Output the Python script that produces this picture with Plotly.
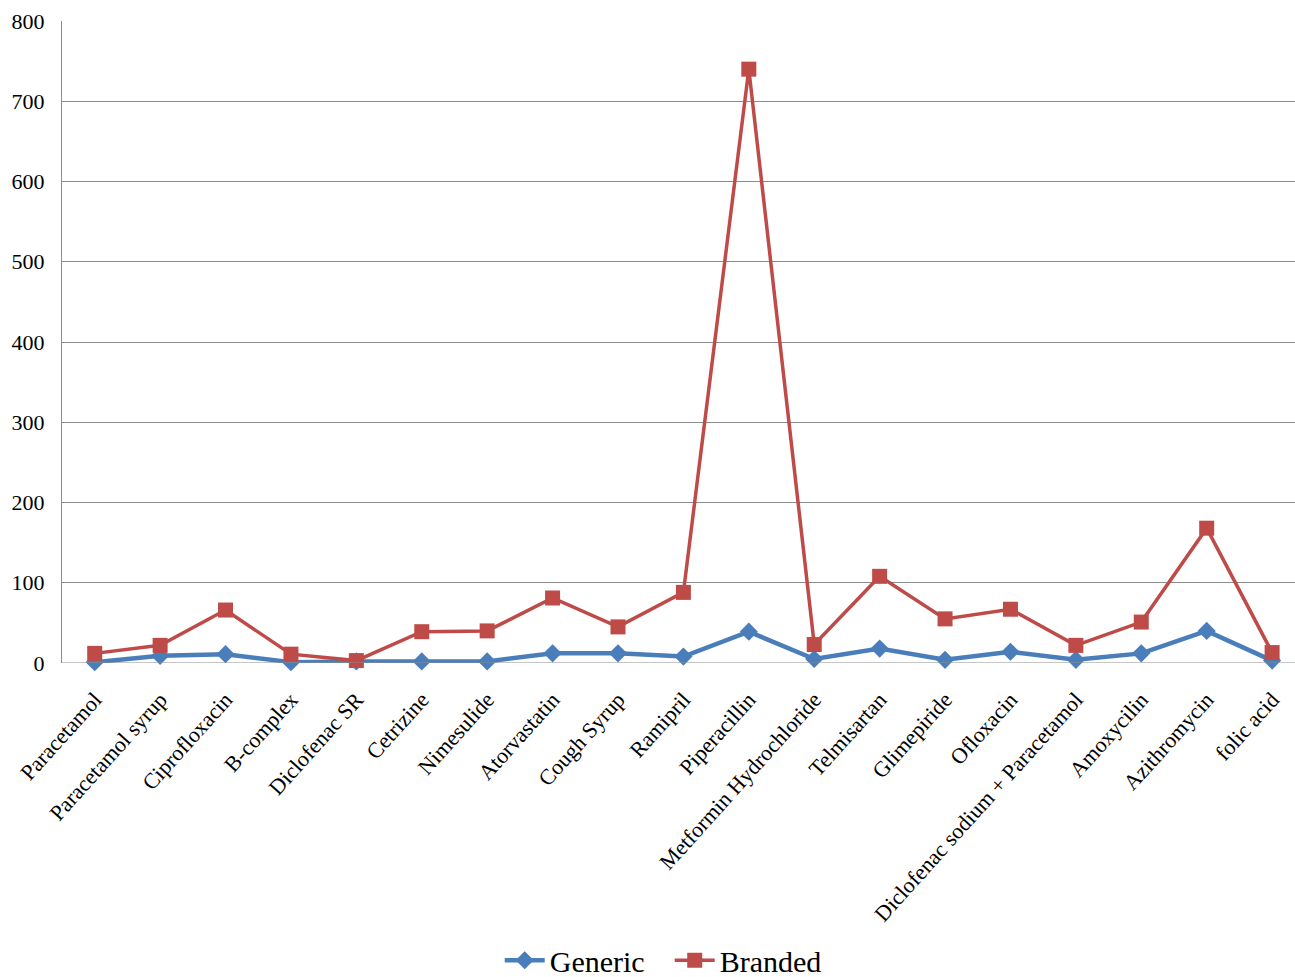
import plotly.graph_objects as go

categories = ["Paracetamol", "Paracetamol syrup", "Ciprofloxacin", "B-complex", "Diclofenac SR",
              "Cetrizine", "Nimesulide", "Atorvastatin", "Cough Syrup", "Ramipril", "Piperacillin",
              "Metformin Hydrochloride", "Telmisartan", "Glimepiride", "Ofloxacin",
              "Diclofenac sodium + Paracetamol", "Amoxycilin", "Azithromycin", "folic acid"]
generic = [1, 9, 11, 1, 2, 2, 2, 12, 12, 8, 39, 5, 18, 4, 14, 4, 12, 40, 3]
branded = [12, 22, 66, 11, 3, 39, 40, 81, 45, 88, 740, 23, 108, 55, 67, 22, 51, 168, 13]
y_ticks = [0, 100, 200, 300, 400, 500, 600, 700, 800]

font = "Liberation Serif, Times New Roman, serif"
x = list(range(len(categories)))

fig = go.Figure()
fig.add_trace(go.Scatter(x=x, y=generic, name="Generic", mode="lines+markers",
                         line=dict(color="#4A7EBB", width=4.5),
                         marker=dict(symbol="diamond", size=14, color="#4A7EBB"),
                         cliponaxis=False))
fig.add_trace(go.Scatter(x=x, y=branded, name="Branded", mode="lines+markers",
                         line=dict(color="#BE4B48", width=3.5),
                         marker=dict(symbol="square", size=15, color="#BE4B48"),
                         cliponaxis=False))

fig.update_layout(
    width=1295, height=977,
    margin=dict(l=62, r=0, t=21, b=314, autoexpand=False),
    paper_bgcolor="white", plot_bgcolor="white",
    font=dict(family=font, size=21, color="black"),
    xaxis=dict(tickmode="array", tickvals=x, ticktext=categories, tickangle=-48,
               range=[-0.5, 18.35], showgrid=False, zeroline=False, showline=False,
               tickfont=dict(size=22, family=font), ticks="outside", ticklen=14,
               tickcolor="rgba(0,0,0,0)", automargin=False),
    yaxis=dict(range=[0, 800], tickvals=y_ticks, showgrid=True, gridcolor="#8C8C8C",
               gridwidth=1, zeroline=False, showline=True, linecolor="#8C8C8C",
               linewidth=1, tickfont=dict(size=22, family=font), ticks="outside",
               ticklen=12, tickcolor="rgba(0,0,0,0)", automargin=False),
    legend=dict(orientation="h", x=0.355, xanchor="left", y=-0.463, yanchor="middle",
                font=dict(size=30, family=font), itemwidth=40, traceorder="normal",
                entrywidth=115, entrywidthmode="pixels"),
    showlegend=True,
)
fig.add_hline(y=0, line=dict(color="#8C8C8C", width=1))

fig.write_html("out.html")
